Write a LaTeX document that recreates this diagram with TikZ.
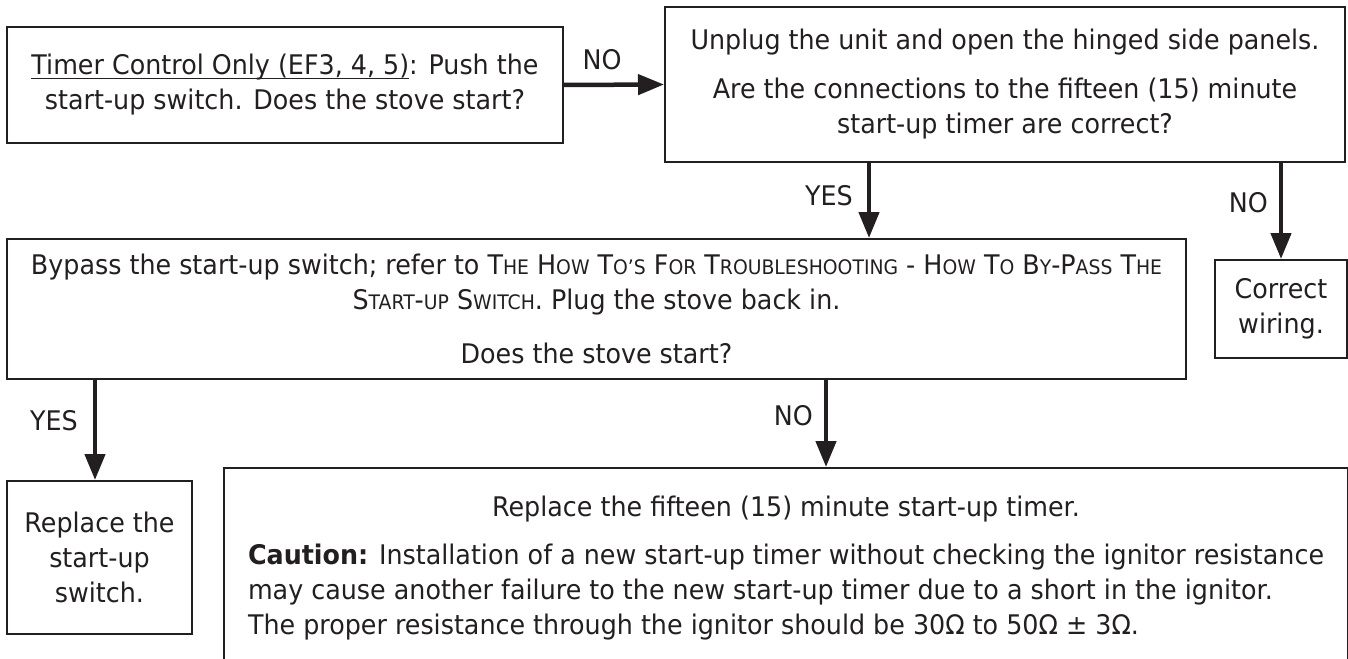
\documentclass[tikz,border=0pt]{standalone}
\usepackage{fontspec}
\setmainfont{DejaVu Sans}[FakeStretch=0.94]
\usetikzlibrary{arrows.meta}
\definecolor{ink}{RGB}{35,31,32}
\newcommand\smc[1]{{\fontsize{20}{35}\selectfont #1}}
\newcommand\myuline[1]{\setbox0\hbox{#1}\rlap{\rule[-4.5pt]{\wd0}{1.4pt}}\box0}
\begin{document}
\begin{tikzpicture}[x=1pt,y=1pt,
  box/.style={draw=ink, line width=2pt, inner sep=0pt, align=center, text=ink,
    font=\fontsize{27}{35}\selectfont},
  arr/.style={draw=ink, line width=4.5pt, -{Triangle[length=26pt,width=20pt]}},
  lbl/.style={text=ink, inner sep=0pt, font=\fontsize{27}{35}\selectfont}]
\useasboundingbox (0,0) rectangle (1348,-658);

\node[box, minimum width=556pt, minimum height=116pt] (A) at (285,-85)
  {\myuline{Timer Control Only (EF3, 4, 5)}: Push the\\start-up switch. Does the stove start?};

\node[box, minimum width=680pt, minimum height=155pt] (B) at (1005,-84.5)
  {Unplug the unit and open the hinged side panels.\\[14pt]
   Are the connections to the fifteen (15) minute\\start-up timer are correct?};

\node[box, minimum width=1179pt, minimum height=140pt] (C) at (596.5,-309)
  {Bypass the start-up switch; refer to T\smc{HE} H\smc{OW} T\smc{O’S} F\smc{OR} T\smc{ROUBLESHOOTING} - H\smc{OW} T\smc{O} B\smc{Y}-P\smc{ASS} T\smc{HE}\\
   S\smc{TART}-\smc{UP} S\smc{WITCH}. Plug the stove back in.\\[19pt]
   Does the stove start?};

\node[box, minimum width=132pt, minimum height=98pt] (D) at (1281,-309)
  {Correct\\wiring.};

\node[box, minimum width=185pt, minimum height=153pt] (F) at (99.5,-557.5)
  {Replace the\\start-up\\switch.};

\node[box, anchor=north west, minimum width=1124pt, minimum height=200pt] (E) at (223,-467)
  {\begin{tabular}{@{}l@{}}
   \multicolumn{1}{@{}c@{}}{Replace the fifteen (15) minute start-up timer.}\\[13pt]
   \textbf{Caution:} Installation of a new start-up timer without checking the ignitor resistance\\
   may cause another failure to the new start-up timer due to a short in the ignitor.\\
   The proper resistance through the ignitor should be 30Ω to 50Ω ± 3Ω.
   \end{tabular}};

\coordinate (xyes) at (869,0);
\coordinate (xyesb) at (95,0);
\coordinate (xnob) at (826,0);

\draw[arr] (A.east) -- node[lbl, pos=0.5, anchor=base, yshift=15pt, xshift=-12pt] (lno1) {NO} (B.west);
\draw[arr] (xyes |- B.south) -- node[lbl, pos=0.56, anchor=base east, xshift=-14pt] (lyes1) {YES} (xyes |- C.north);
\draw[arr] (D.north |- B.south) -- node[lbl, pos=0.52, anchor=base east, xshift=-11pt] (lno2) {NO} (D.north);
\draw[arr] (xyesb |- C.south) -- node[lbl, pos=0.5, anchor=base east, xshift=-15pt] (lyes2) {YES} (xyesb |- F.north);
\draw[arr] (xnob |- C.south) -- node[lbl, pos=0.52, anchor=base east, xshift=-11pt] (lno3) {NO} (xnob |- E.north);
\end{tikzpicture}
\end{document}
